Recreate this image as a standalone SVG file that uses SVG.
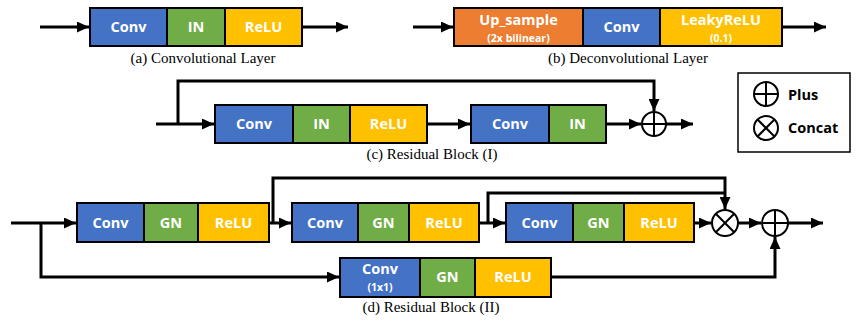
<svg xmlns="http://www.w3.org/2000/svg" width="859" height="322" viewBox="0 0 859 322">
<defs>
<style>
.b{stroke:#000;stroke-width:2}
.conv{fill:#4472C4}
.norm{fill:#70AD47}
.relu{fill:#FFC000}
.up{fill:#ED7D31}
.t{font-family:"Open Sans","Liberation Sans",sans-serif;font-weight:bold;font-size:14.5px;fill:#fff;text-anchor:middle}
.s{font-family:"Open Sans","Liberation Sans",sans-serif;font-weight:bold;font-size:10.5px;fill:#fff;text-anchor:middle}
.cap{font-family:"Liberation Serif",serif;font-size:15px;fill:#000;text-anchor:middle}
.lg{font-family:"Open Sans","Liberation Sans",sans-serif;font-weight:bold;font-size:14.5px;fill:#000}
.w{fill:none;stroke:#000;stroke-width:3;stroke-linejoin:miter}
.op{fill:#fff;stroke:#000;stroke-width:2}
.ol{stroke:#000;stroke-width:2}
</style>
<marker id="ah" markerUnits="userSpaceOnUse" markerWidth="13" markerHeight="11" refX="12" refY="5.5" orient="auto">
<path d="M0,0 L12,5.5 L0,11 z" fill="#000"/>
</marker>
</defs>

<g id="connectors">
<line class="w" x1="40" y1="27" x2="89" y2="27" marker-end="url(#ah)"/>
<line class="w" x1="302" y1="27" x2="348" y2="27" marker-end="url(#ah)"/>
<line class="w" x1="413" y1="27" x2="453" y2="27" marker-end="url(#ah)"/>
<line class="w" x1="782" y1="27" x2="826" y2="27" marker-end="url(#ah)"/>
<line class="w" x1="156" y1="124" x2="214" y2="124" marker-end="url(#ah)"/>
<polyline class="w" points="178,124 178,81 654,81 654,111" marker-end="url(#ah)"/>
<line class="w" x1="427" y1="124" x2="470" y2="124" marker-end="url(#ah)"/>
<line class="w" x1="606" y1="124" x2="641" y2="124" marker-end="url(#ah)"/>
<line class="w" x1="666" y1="124" x2="693" y2="124" marker-end="url(#ah)"/>
<line class="w" x1="11" y1="223" x2="76" y2="223" marker-end="url(#ah)"/>
<polyline class="w" points="41,223 41,277 339,277" marker-end="url(#ah)"/>
<line class="w" x1="269" y1="223" x2="291" y2="223" marker-end="url(#ah)"/>
<polyline class="w" points="273,223 273,178 725,178 725,209" marker-end="url(#ah)"/>
<line class="w" x1="479" y1="223" x2="505" y2="223" marker-end="url(#ah)"/>
<polyline class="w" points="488,223 488,193 725,193"/>
<line class="w" x1="694" y1="223" x2="711" y2="223" marker-end="url(#ah)"/>
<line class="w" x1="738" y1="223" x2="761" y2="223" marker-end="url(#ah)"/>
<polyline class="w" points="551,277 775,277 775,237" marker-end="url(#ah)"/>
<line class="w" x1="788" y1="223" x2="823" y2="223" marker-end="url(#ah)"/>
</g>

<g id="layer-a">
<rect class="b conv" x="90" y="8" width="77" height="38"/>
<rect class="b norm" x="167" y="8" width="58" height="38"/>
<rect class="b relu" x="225" y="8" width="77" height="38"/>
<text class="t" x="128.5" y="32">Conv</text>
<text class="t" x="196" y="32">IN</text>
<text class="t" x="263.5" y="32">ReLU</text>
<text class="cap" x="203" y="63">(a) Convolutional Layer</text>
</g>

<g id="layer-b">
<rect class="b up" x="454" y="8" width="129" height="38"/>
<rect class="b conv" x="583" y="8" width="77" height="38"/>
<rect class="b relu" x="660" y="8" width="122" height="38"/>
<text class="t" x="518.5" y="25">Up_sample</text>
<text class="s" x="518.5" y="42">(2x bilinear)</text>
<text class="t" x="621.5" y="32">Conv</text>
<text class="t" x="721" y="25">LeakyReLU</text>
<text class="s" x="721" y="42">(0.1)</text>
<text class="cap" x="628" y="63">(b) Deconvolutional Layer</text>
</g>

<g id="block-c">
<rect class="b conv" x="215" y="105" width="78" height="38"/>
<rect class="b norm" x="293" y="105" width="57" height="38"/>
<rect class="b relu" x="350" y="105" width="77" height="38"/>
<text class="t" x="254" y="129">Conv</text>
<text class="t" x="321.5" y="129">IN</text>
<text class="t" x="388.5" y="129">ReLU</text>
<rect class="b conv" x="471" y="105" width="78" height="38"/>
<rect class="b norm" x="549" y="105" width="57" height="38"/>
<text class="t" x="510" y="129">Conv</text>
<text class="t" x="577.5" y="129">IN</text>
<text class="cap" x="432" y="159">(c) Residual Block (I)</text>
</g>

<g id="plus-c">
<circle class="op" cx="654" cy="124" r="12"/>
<line class="ol" x1="642" y1="124" x2="666" y2="124"/>
<line class="ol" x1="654" y1="112" x2="654" y2="136"/>
</g>

<g id="legend">
<rect x="738" y="73" width="112" height="79" fill="#fff" stroke="#000" stroke-width="1.5"/>
<circle class="op" cx="766" cy="94" r="12"/>
<line class="ol" x1="754" y1="94" x2="778" y2="94"/>
<line class="ol" x1="766" y1="82" x2="766" y2="106"/>
<text class="lg" x="788" y="100">Plus</text>
<circle class="op" cx="766" cy="128" r="12"/>
<line class="ol" x1="757.5" y1="119.5" x2="774.5" y2="136.5"/>
<line class="ol" x1="774.5" y1="119.5" x2="757.5" y2="136.5"/>
<text class="lg" x="788" y="133">Concat</text>
</g>

<g id="block-d">
<rect class="b conv" x="77" y="203" width="67" height="39"/>
<rect class="b norm" x="144" y="203" width="54" height="39"/>
<rect class="b relu" x="198" y="203" width="71" height="39"/>
<text class="t" x="110.5" y="228">Conv</text>
<text class="t" x="171" y="228">GN</text>
<text class="t" x="233.5" y="228">ReLU</text>
<rect class="b conv" x="292" y="203" width="66" height="39"/>
<rect class="b norm" x="358" y="203" width="51" height="39"/>
<rect class="b relu" x="409" y="203" width="70" height="39"/>
<text class="t" x="325" y="228">Conv</text>
<text class="t" x="383.5" y="228">GN</text>
<text class="t" x="444" y="228">ReLU</text>
<rect class="b conv" x="506" y="203" width="67" height="39"/>
<rect class="b norm" x="573" y="203" width="51" height="39"/>
<rect class="b relu" x="624" y="203" width="70" height="39"/>
<text class="t" x="539.5" y="228">Conv</text>
<text class="t" x="598.5" y="228">GN</text>
<text class="t" x="659" y="228">ReLU</text>
<rect class="b conv" x="340" y="258" width="80" height="39"/>
<rect class="b norm" x="420" y="258" width="55" height="39"/>
<rect class="b relu" x="475" y="258" width="76" height="39"/>
<text class="t" x="380" y="274">Conv</text>
<text class="s" x="380" y="291">(1x1)</text>
<text class="t" x="447.5" y="282">GN</text>
<text class="t" x="513" y="282">ReLU</text>
<text class="cap" x="431" y="312">(d) Residual Block (II)</text>
</g>

<g id="concat-d">
<circle class="op" cx="725" cy="223" r="13"/>
<line class="ol" x1="715.8" y1="213.8" x2="734.2" y2="232.2"/>
<line class="ol" x1="734.2" y1="213.8" x2="715.8" y2="232.2"/>
</g>

<g id="plus-d">
<circle class="op" cx="775" cy="223" r="13"/>
<line class="ol" x1="762" y1="223" x2="788" y2="223"/>
<line class="ol" x1="775" y1="210" x2="775" y2="236"/>
</g>
</svg>
